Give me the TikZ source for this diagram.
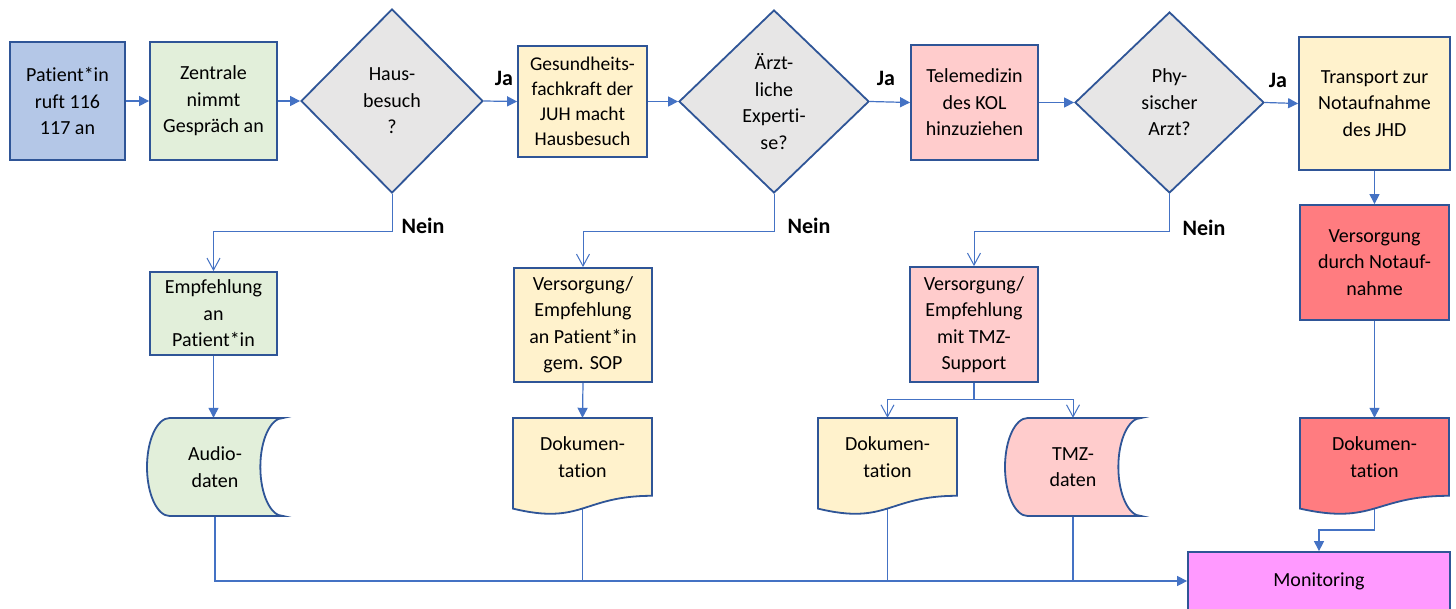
\documentclass[tikz,border=0pt]{standalone}
\usepackage{fontspec}
\setmainfont{Carlito}[Ligatures=NoCommon]
\usetikzlibrary{arrows.meta,shapes.geometric,backgrounds,calc}
\definecolor{bord}{HTML}{2F5597}
\definecolor{lin}{HTML}{4472C4}
\definecolor{cblue}{HTML}{B4C7E7}
\definecolor{cgreen}{HTML}{E2EFDA}
\definecolor{cyellow}{HTML}{FFF2CC}
\definecolor{cpink}{HTML}{FFCCCC}
\definecolor{cred}{HTML}{FF7C80}
\definecolor{cgray}{HTML}{E7E6E6}
\definecolor{cmag}{HTML}{FF99FF}
\tikzset{
 txt/.style={font=\fontsize{20}{26.5}\selectfont, align=center, text=black},
 box/.style={txt, draw=bord, line width=1.8pt, rectangle, inner sep=0pt},
 dec/.style={txt, draw=bord, line width=1.8pt, diamond, inner sep=0pt, fill=cgray},
 shapeline/.style={draw=bord, line width=1.8pt},
 plain/.style={txt, inner sep=0pt, rectangle},
 conn/.style={draw=lin, line width=1.2pt, -{Triangle[length=10pt,width=10pt]}},
 nconn/.style={draw=lin, line width=1pt, -{Straight Barb[length=12pt,width=13pt]}},
 wire/.style={draw=lin, line width=1.2pt},
 lab/.style={font=\fontsize{22}{24}\bfseries\selectfont, text=black},
}
% name, xleft, top, w, h, fill, text
\newcommand\docshape[7]{%
 \filldraw[fill=#6, shapeline] (#2,-#3) -- ({#2+#4},-#3) -- ({#2+#4},{-#3-0.802*#5})
   .. controls ({#2+0.5*#4},{-#3-0.802*#5}) and ({#2+0.5*#4},{-#3-1.1075*#5}) .. (#2,{-#3-0.934*#5}) -- cycle;
 \node[plain, minimum width=#4, minimum height={0.802*#5}] (#1) at ({#2+0.5*#4},{-#3-0.401*#5}) {#7};
}
\newcommand\storeshape[7]{%
 \filldraw[fill=#6, shapeline] ({#2+#4/6},-#3) -- ({#2+#4},-#3)
   arc[start angle=90,end angle=270,x radius={#4/6},y radius={#5/2}]
   -- ({#2+#4/6},{-#3-#5})
   arc[start angle=270,end angle=90,x radius={#4/6},y radius={#5/2}] -- cycle;
 \node[plain, minimum width={#4*2/3}, minimum height=#5] (#1) at ({#2+#4/2},{-#3-#5/2}) {#7};
}
\begin{document}
\begin{tikzpicture}[x=1pt,y=1pt]
\clip (0,0) rectangle (1456,-608);
\node[box, fill=cblue, minimum width=115, minimum height=118] (p1) at (67.5,-101) {Patient*in\\ruft 116\\117 an};
\node[box, fill=cgreen, minimum width=127, minimum height=118] (p2) at (213.5,-101) {Zentrale\\nimmt\\Gespräch an};
\node[dec, minimum width=182, minimum height=184] (d1) at (392,-101) {Haus-\\besuch\\?};
\node[box, fill=cyellow, minimum width=129, minimum height=111, font=\fontsize{19.5}{25}\selectfont] (b3) at (582.5,-101.5) {Gesundheits-\\fachkraft der\\JUH macht\\Hausbesuch};
\node[dec, minimum width=190, minimum height=183] (d2) at (774,-101.5) {Ärzt-\\liche\\Experti-\\se?};
\node[box, fill=cpink, minimum width=127, minimum height=115] (b4) at (974.5,-102.5) {Telemedizin\\des KOL\\hinzuziehen};
\node[dec, minimum width=189, minimum height=181] (d3) at (1169.5,-102.5) {Phy-\\sischer\\Arzt?};
\node[box, fill=cyellow, minimum width=151, minimum height=133] (b5) at (1374.5,-103.5) {Transport zur\\Notaufnahme\\des JHD};
\node[box, fill=cred, minimum width=149, minimum height=115] (b6) at (1374.5,-262.5) {Versorgung\\durch Notauf-\\nahme};
\node[box, fill=cgreen, minimum width=127, minimum height=83] (e1) at (213.5,-313.5) {Empfehlung\\an\\Patient*in};
\node[box, fill=cyellow, minimum width=138, minimum height=114] (e2) at (583,-325) {Versorgung/\\Empfehlung\\an Patient*in\\gem. SOP};
\node[box, fill=cpink, minimum width=128, minimum height=115] (e3) at (974,-324.5) {Versorgung/\\Empfehlung\\mit TMZ-\\Support};
\storeshape{s1}{147}{418}{136}{98}{cgreen}{Audio-\\daten}
\docshape{k1}{513}{418}{139}{97}{cyellow}{Dokumen-\\tation}
\docshape{k2}{818}{418}{139}{97}{cyellow}{Dokumen-\\tation}
\storeshape{s2}{1005}{418}{136}{98}{cpink}{TMZ-\\daten}
\docshape{k3}{1300}{418}{149}{97}{cred}{Dokumen-\\tation}
\node[box, fill=cmag, minimum width=262, minimum height=58] (mon) at (1319,-581) {Monitoring};
\node[lab] (ja1) at (504,-78) {Ja};
\node[lab] (ja2) at (886,-78) {Ja};
\node[lab] (ja3) at (1278,-80) {Ja};
\node[lab] (n1) at (423,-226) {Nein};
\node[lab] (n2) at (809,-226) {Nein};
\node[lab] (n3) at (1204,-228) {Nein};
\begin{scope}[on background layer]
\fill[white] (0,0) rectangle (1456,-608);
\draw[conn] (p1.east) -- (p2.west);
\draw[conn] (p2.east) -- (d1.west);
\draw[conn] (d1.east) -- (b3.west);
\draw[conn] (b3.east) -- (d2.west);
\draw[conn] (d2.east) -- (b4.west);
\draw[conn] (b4.east) -- (d3.west);
\draw[conn] (d3.east) -- (b5.west);
\draw[conn] (b5.south) -- (b6.north);
\draw[conn] (b6.south) -- (k3.north);
\draw[nconn] (d1.south) -- ++(0,-38) -| (e1.north);
\draw[nconn] (d2.south) -- ++(0,-38) -| (e2.north);
\draw[nconn] (d3.south) -- ++(0,-38) -| (e3.north);
\draw[conn] (e1.south) -- (e1.south |- s1.north);
\draw[conn] (e2.south) -- (k1.north);
\draw[wire] (e3.south) -- ++(0,-17) coordinate (sp);
\draw[nconn] (sp) -| (k2.north);
\draw[nconn] (sp) -| (s2.north);
\draw[conn] (s1.south) |- (mon.west);
\draw[wire] (k1.south) -- (k1.south |- mon.west);
\draw[wire] (k2.south) -- (k2.south |- mon.west);
\draw[wire] (s2.south) -- (s2.south |- mon.west);
\draw[conn] (k3.south) -- ++(0,-34) -| (mon.north);
\end{scope}
\end{tikzpicture}
\end{document}
